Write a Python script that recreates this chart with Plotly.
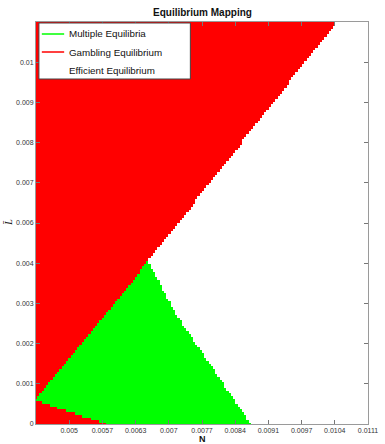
import numpy as np
import plotly.graph_objects as go

# Parameter space
N_MIN, N_MAX = 0.0043, 0.0111
L_MIN, L_MAX = 0.0, 0.011
N_STEPS, L_STEPS = 150, 150

# Gambling / efficient boundary (above the triple point)
gamble_eff_L = [0.004449, 0.011]
gamble_eff_N = [0.006593, 0.010461]
# Multiple-equilibria / efficient boundary (below the triple point)
multi_eff_L = [0.0, 0.002225, 0.00288, 0.004449]
multi_eff_N = [0.008707, 0.00757, 0.007231, 0.006593]
# Upper and lower edges of the multiple-equilibria wedge
multi_upper_N = [0.0043, 0.006593]
multi_upper_L = [0.00072, 0.004449]
multi_lower_N = [0.0043, 0.00575]
multi_lower_L = [0.00064, 0.0]

# Tick positions and their labels
x_tick_vals = [0.00498, 0.00566, 0.00634, 0.00702, 0.0077, 0.00838,
               0.00906, 0.00974, 0.01042, 0.0111]
x_tick_text = ["0.005", "0.0057", "0.0063", "0.007", "0.0077", "0.0084",
               "0.0091", "0.0097", "0.0104", "0.0111"]
y_tick_vals = [0.0, 0.0011, 0.0022, 0.0033, 0.0044, 0.0055, 0.0066,
               0.0077, 0.0088, 0.0099, 0.011]
y_tick_text = ["0", "0.001", "0.002", "0.003", "0.004", "0.006", "0.007",
               "0.008", "0.009", "0.01", ""]

legend_labels = ["Multiple Equilibria", "Gambling Equilibrium", "Efficient Equilibrium"]
legend_colors = ["#00FF00", "#FF0000", "#FFFFFF"]

FONT = "Arial, Liberation Sans, sans-serif"

# Classify each grid cell: 0 efficient, 1 multiple, 2 gambling
N = np.linspace(N_MIN, N_MAX, N_STEPS)
L = np.linspace(L_MIN, L_MAX, L_STEPS)
NN, LL = np.meshgrid(N, L)
L_apex = gamble_eff_L[0]

n_ge = np.interp(LL, gamble_eff_L, gamble_eff_N)
n_me = np.interp(LL, multi_eff_L, multi_eff_N)
l_up = np.interp(NN, multi_upper_N, multi_upper_L)
l_lo = np.interp(NN, multi_lower_N, multi_lower_L)

regime = np.zeros_like(NN, dtype=int)
upper = LL >= L_apex
regime[upper & (NN < n_ge)] = 2
lower = ~upper
inside = lower & (NN <= n_me)
regime[inside & (LL > l_up)] = 2
regime[inside & (LL < l_lo)] = 2
regime[inside & (LL <= l_up) & (LL >= l_lo)] = 1

fig = go.Figure()
fig.add_trace(go.Heatmap(
    x=N, y=L, z=regime, zmin=0, zmax=2,
    colorscale=[[0, "#FFFFFF"], [0.5, "#00FF00"], [1, "#FF0000"]],
    showscale=False, hoverinfo="skip", zsmooth=False,
))

# Legend box, placed in plot-area pixel terms
H_PLOT = 402.0
W_PLOT = 342.0
def px_x(px):
    return (px - 36) / W_PLOT
def px_y(py):
    return (424 - py) / H_PLOT

fig.add_shape(type="rect", xref="paper", yref="paper",
              x0=px_x(39), x1=px_x(195), y0=px_y(79), y1=px_y(23),
              fillcolor="white", line=dict(color="#444444", width=1), layer="above")
for i, (lab, col) in enumerate(zip(legend_labels, legend_colors)):
    yy = px_y(34 + 18 * i)
    fig.add_shape(type="line", xref="paper", yref="paper",
                  x0=px_x(42), x1=px_x(65), y0=yy, y1=yy,
                  line=dict(color=col, width=1.5), layer="above")
    fig.add_annotation(xref="paper", yref="paper", x=px_x(67.5), y=yy,
                       text=lab, showarrow=False, xanchor="left", yanchor="middle",
                       font=dict(size=9.8, color="#111111", family=FONT))

axis_common = dict(
    showline=True, linecolor="#9a9a9a", linewidth=1, mirror="allticks",
    ticks="inside", ticklen=4, tickcolor="#777777", showgrid=False, zeroline=False,
    tickfont=dict(size=7, color="#333333", family=FONT),
    ticklabeloverflow="allow",
)

fig.update_layout(
    width=385, height=444,
    margin=dict(l=36, r=7, t=22, b=20, pad=0),
    paper_bgcolor="white", plot_bgcolor="white",
    showlegend=False,
    xaxis=dict(range=[N_MIN, N_MAX], tickmode="array", tickvals=x_tick_vals,
               ticktext=x_tick_text, **axis_common),
    yaxis=dict(range=[L_MIN, L_MAX], tickmode="array", tickvals=y_tick_vals,
               ticktext=y_tick_text, **axis_common),
    font=dict(family=FONT),
)

fig.add_annotation(xref="paper", yref="paper", x=0.5, y=px_y(12),
                   text="<b>Equilibrium Mapping</b>", showarrow=False,
                   xanchor="center", yanchor="middle",
                   font=dict(size=10, color="#111111", family=FONT))
fig.add_annotation(xref="paper", yref="paper", x=0.5, y=px_y(439),
                   text="<b>N</b>", showarrow=False,
                   xanchor="center", yanchor="middle",
                   font=dict(size=9, color="#111111", family=FONT))
fig.add_annotation(xref="paper", yref="paper", x=px_x(8), y=px_y(222),
                   text="<i>L\u0304</i>", showarrow=False, textangle=-90,
                   xanchor="center", yanchor="middle",
                   font=dict(size=10, color="#111111", family="Liberation Serif"))

fig.write_html("out.html")
